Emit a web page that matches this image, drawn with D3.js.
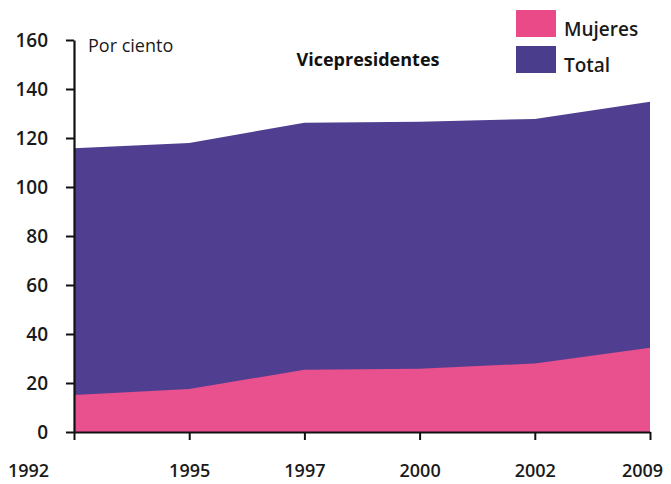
<!DOCTYPE html>
<html><head><meta charset="utf-8">
<script src="https://cdn.jsdelivr.net/npm/d3@7"></script>
<style>body{margin:0;background:#fff}svg{display:block}</style>
</head><body>
<svg id="c" width="671" height="484"></svg>
<script>
const years = ["1992","1995","1997","2000","2002","2009"];
const total = [115.8, 118, 126.2, 126.6, 127.8, 134.8];
const mujeres = [15.1, 17.6, 25.4, 25.8, 28, 34.4];
const yTicks = [0,20,40,60,80,100,120,140,160];
const seriesNames = ["Mujeres","Total"];
const colors = {Mujeres:"#e8508e", Total:"#503f91"};
const legendColors = {Mujeres:"#ea4a88", Total:"#4a3d8c"};

const svg = d3.select("#c");
const font = "'Open Sans', 'DejaVu Sans', sans-serif";
const x = d3.scalePoint().domain(years).range([74, 650]);
const y = d3.scaleLinear().domain([0,160]).range([432, 40]);

const area = vals => d3.area().x((d,i)=>x(years[i])).y0(y(0)).y1(d=>y(d))(vals);
svg.append("path").attr("d", area(total)).attr("fill", colors.Total);
svg.append("path").attr("d", area(mujeres)).attr("fill", colors.Mujeres);

const ya = svg.append("g").attr("transform","translate(74,0)")
  .call(d3.axisLeft(y).tickValues(yTicks).tickSize(8).tickPadding(18).tickSizeOuter(0));
ya.select(".domain").attr("stroke","#111").attr("stroke-width",2.2);
ya.selectAll(".tick line").attr("stroke","#111").attr("stroke-width",2);
ya.selectAll("text").attr("font-family",font).attr("font-size",19).attr("font-weight",600).attr("fill","#1a1a1a");

const xa = svg.append("g").attr("transform","translate(0,432)")
  .call(d3.axisBottom(x).tickSize(8).tickPadding(24).tickSizeOuter(0));
xa.select(".domain").attr("stroke","#111").attr("stroke-width",2.2);
xa.selectAll(".tick line").attr("stroke","#111").attr("stroke-width",2);
xa.selectAll("text").attr("font-family",font).attr("font-size",18).attr("font-weight",600).attr("fill","#1a1a1a");
xa.selectAll(".tick").filter((d,i)=>i===0).select("text").attr("dx",-46);
xa.selectAll(".tick").filter((d,i)=>i===years.length-1).select("text").attr("dx",-8);

svg.append("text").attr("x",88).attr("y",52).text("Por ciento")
  .attr("font-family",font).attr("font-size",18).attr("fill","#1a1a1a");
svg.append("text").attr("x",368).attr("y",66).attr("text-anchor","middle").text("Vicepresidentes")
  .attr("font-family",font).attr("font-size",18).attr("font-weight",700).attr("fill","#111");

const lg = svg.append("g");
seriesNames.forEach((n,i)=>{
  lg.append("rect").attr("x",516).attr("y",10+i*36).attr("width",40).attr("height",27).attr("fill",legendColors[n]);
  lg.append("text").attr("x",564).attr("y",36+i*36).text(n)
    .attr("font-family",font).attr("font-size",19).attr("font-weight",600).attr("fill","#1a1a1a");
});
</script>
</body></html>
